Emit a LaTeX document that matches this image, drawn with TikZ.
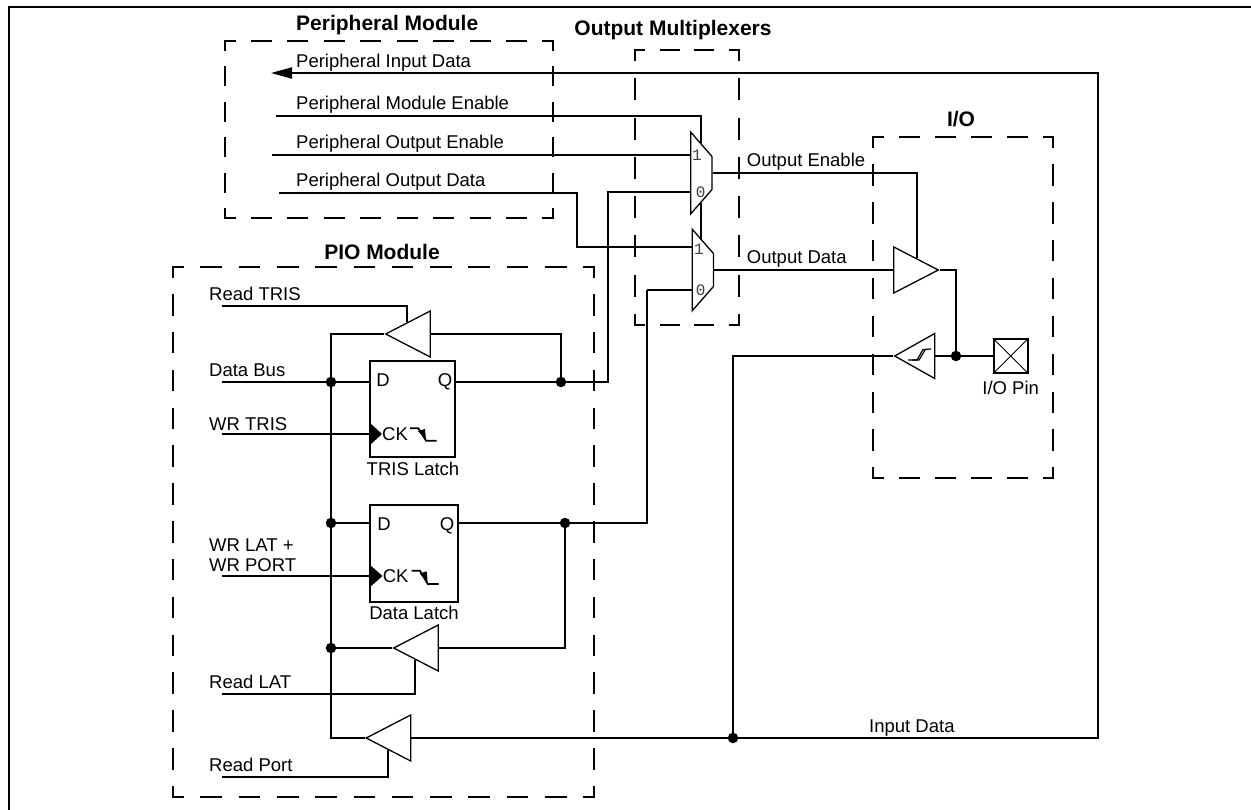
\documentclass[tikz,border=0pt]{standalone}
\usepackage{fontspec}
\setmainfont{Liberation Sans}
\setmonofont{Liberation Mono}
\usetikzlibrary{arrows.meta,shapes.geometric}
\tikzset{
  wire/.style={line width=2pt},
  thinwire/.style={line width=1.2pt},
  dashbox/.style n args={3}{line width=2pt, line cap=rect, dash pattern=on #1pt off #2pt, dash phase=#3pt},
  sig/.style={anchor=base west, inner sep=0pt, font=\fontsize{18.5}{22}\selectfont},
  clabel/.style={anchor=base, inner sep=0pt, font=\fontsize{18.5}{22}\selectfont},
  blocktitle/.style={anchor=base, inner sep=0pt, font=\fontsize{21}{24}\selectfont\bfseries},
  digit/.style={inner sep=0pt, text=black!75, font=\fontsize{16}{19}\selectfont\ttfamily},
  bufl/.style={draw, line width=1.3pt, isosceles triangle, isosceles triangle stretches,
    shape border rotate=180, minimum width=46pt, minimum height=44.5pt, inner sep=0pt, anchor=apex},
  bufr/.style={bufl, shape border rotate=0},
  mux/.style={draw, line width=1.3pt, trapezium, trapezium stretches, shape border rotate=270,
    trapezium angle=53.5, minimum width=81.7pt, minimum height=21.3pt, inner sep=1pt},
  latch/.style={draw, line width=2pt, minimum width=85pt, minimum height=96pt, inner sep=0pt},
  joint/.style={circle, fill, minimum size=10.5pt, inner sep=0pt},
}
\begin{document}
\begin{tikzpicture}[x=1pt, y=-1pt]
  \useasboundingbox (0,0) rectangle (1251,810);

  % outer frame
  \draw[line width=2pt] (9,810) -- (9,7) -- (1251,7);

  % dashed groups
  \draw[dashbox={19}{17.44}{9.5}] (225,41) -- (553,41) (225,218) -- (553,218);
  \draw[dashbox={18}{17.4}{9}] (225,41) -- (225,218) (553,41) -- (553,218);
  \draw[dashbox={18}{16.57}{9}] (635,50) -- (739,50) (635,325) -- (739,325);
  \draw[dashbox={20}{19.3}{10}] (635,50) -- (635,325) (739,50) -- (739,325);
  \draw[dashbox={19}{17.06}{9.5}] (873,137) -- (1053,137) (873,478) -- (1053,478);
  \draw[dashbox={19.5}{18.4}{9.75}] (873,137) -- (873,478) (1053,137) -- (1053,478);
  \draw[dashbox={19.7}{18.57}{9.85}] (173,267) -- (594,267) (173,797) -- (594,797);
  \draw[dashbox={19.5}{18.34}{9.75}] (173,267) -- (173,797) (594,267) -- (594,797);

  \node[blocktitle, anchor=base west] (periphtitle) at (296,31) {Peripheral Module};
  \node[blocktitle] (muxtitle) at (673,36) {Output Multiplexers};
  \node[blocktitle] (iotitle) at (961,127) {I/O};
  \node[blocktitle] (piotitle) at (382,260) {PIO Module};

  % latches
  \node[latch] (trislatch) at (412.5,409) {};
  \node[latch, minimum width=88pt, minimum height=96.7pt] (datalatch) at (414,553.5) {};
  \node[clabel] (trisd) at (383,386.7) {D};
  \node[clabel] (trisq) at (445,386.7) {Q};
  \node[clabel] (trisck) at (395,440.7) {CK};
  \node[clabel] (datad) at (384,530) {D};
  \node[clabel] (dataq) at (447,530) {Q};
  \node[clabel] (datack) at (395.7,582.7) {CK};
  \node[clabel] (trisname) at (413,475) {TRIS Latch};
  \node[clabel] (dataname) at (414,619) {Data Latch};

  % clock marks
  \fill (370,423) -- (382,434) -- (370,445) -- cycle;
  \fill (370,565) -- (382.5,576) -- (370,587) -- cycle;
  \draw[line width=1.7pt] (410,428.3) -- (418.3,428.3) -- (426,440.7) -- (436.7,440.7);
  \fill (418,431) -- (425,429) -- (426,440) -- cycle;
  \draw[line width=1.7pt] (411.7,570.7) -- (420,570.7) -- (427.7,584) -- (438.7,584);
  \fill (419.7,573.4) -- (426.7,571.4) -- (427.7,583) -- cycle;

  % buffers
  \node[bufl] (buftris) at (384,334) {};
  \node[bufl] (buflat) at (392,648) {};
  \node[bufl] (bufport) at (364.5,738) {};
  \node[bufl, minimum width=45pt, minimum height=40pt] (bufschmitt) at (893,356) {};
  \node[bufr] (bufout) at (940,270) {};
  \draw[line width=1.2pt] (908,360) -- (917,360) -- (923,349.5) -- (931,349);
  \draw[line width=1.2pt] (912,360) -- (919,360) -- (925,350);

  % output multiplexers
  \node[mux] (muxen) at (701.4,173) {};
  \node[mux] (muxdat) at (702.8,270) {};
  \node[digit] (muxen1) at (697,155.7) {1};
  \node[digit] (muxen0) at (700.7,192) {0};
  \node[digit] (muxdat1) at (699,249) {1};
  \node[digit] (muxdat0) at (700.7,290) {0};

  % pin
  \node[draw, line width=2pt, minimum size=34pt, inner sep=0pt] (pin) at (1010.7,356) {};
  \draw[line width=0.9pt] (pin.north west) -- (pin.south east);
  \draw[line width=0.9pt] (pin.south west) -- (pin.north east);
  \node[clabel] (pinname) at (1010.7,394.3) {I/O Pin};

  % junctions
  \node[joint] (dotbus) at (331,382) {};
  \node[joint] (dotlat) at (331,523) {};
  \node[joint] (dotrd) at (331,648) {};
  \node[joint] (dottris) at (561,382) {};
  \node[joint] (dotdata) at (565,523) {};
  \node[joint] (dotin) at (733,738) {};
  \node[joint] (dotpin) at (956,356) {};

  % free ends and bends
  \coordinate (rdtris) at (222,306);
  \coordinate (databus) at (222,382);
  \coordinate (wrtris) at (222,434);
  \coordinate (wrlat) at (222,576);
  \coordinate (rdlat) at (222,694);
  \coordinate (rdport) at (222,777);
  \coordinate (pinput) at (271,73);
  \coordinate (pmodule) at (276,116);
  \coordinate (poutput) at (272,155);
  \coordinate (poutmid) at (602,155);
  \coordinate (pdata) at (279,193);
  \coordinate (pdatabend) at (577,247);
  \coordinate (busend) at (331,738);
  \coordinate (inbend) at (1098,738);
  \coordinate (trisbend) at (608,192);
  \coordinate (databend) at (647,290);
  \coordinate (schmittbend) at (733,356);

  % wires in the PIO module
  \draw[wire] (buftris.apex) -| (busend) -- (bufport.apex);
  \draw[wire] (rdtris) -| (buftris.right side);
  \draw[wire] (buftris.lower side) -| (dottris);
  \draw[wire] (databus) -- (dotbus) -- (dotbus -| trislatch.west);
  \draw[wire] (dotbus -| trislatch.east) -- (dottris) -| (trisbend) -- (trisbend -| muxen.west);
  \draw[wire] (wrtris) -- (wrtris -| trislatch.west);
  \draw[wire] (dotlat) -- (dotlat -| datalatch.west);
  \draw[wire] (dotlat -| datalatch.east) -- (dotdata);
  \draw[wire] (dotdata) -| (databend);
  \draw[thinwire] (databend) -- (databend -| muxdat.west);
  \draw[wire] (wrlat) -- (wrlat -| datalatch.west);
  \draw[wire] (dotdata) |- (buflat.lower side);
  \draw[wire] (dotrd) -- (buflat.apex);
  \draw[wire] (rdlat) -| (buflat.left side);
  \draw[wire] (rdport) -| (bufport.left side);

  % wires to the multiplexers
  \draw[wire, -{Triangle[length=21pt,width=11pt]}] (bufport.lower side) -- (inbend) |- (pinput);
  \draw[wire] (pmodule) -| (muxen.north);
  \draw[thinwire] (poutput) -- (poutmid);
  \draw[wire] (poutmid) -- (poutmid -| muxen.west);
  \draw[wire] (pdata) -| (pdatabend) -- (pdatabend -| muxdat.west);
  \draw[wire] (muxen.south) -- (muxen.south |- muxdat.north);

  % wires in the I/O block
  \draw[wire] (muxen.east) -| (bufout.left side);
  \draw[wire] (muxdat.east) -- (bufout.lower side);
  \draw[wire] (bufout.apex) -| (dotpin);
  \draw[wire] (bufschmitt.lower side) -- (dotpin) -- (pin.west);
  \draw[wire] (dotin) -- (schmittbend) -- (bufschmitt.apex);

  % labels
  \node[sig] (lblinput) at (296,67.3) {Peripheral Input Data};
  \node[sig] (lblmodule) at (296,110) {Peripheral Module Enable};
  \node[sig] (lbloutput) at (296,148.3) {Peripheral Output Enable};
  \node[sig] (lbldata) at (296,186.7) {Peripheral Output Data};
  \node[sig] (lbloe) at (746.7,166.7) {Output Enable};
  \node[sig] (lblod) at (746.7,264) {Output Data};
  \node[sig] (lblrdtris) at (209,300.7) {Read TRIS};
  \node[sig] (lblbus) at (209,376.7) {Data Bus};
  \node[sig] (lblwrtris) at (209,430) {WR TRIS};
  \node[sig] (lblwrlat) at (209,551.7) {WR LAT +};
  \node[sig] (lblwrport) at (209,571.7) {WR PORT};
  \node[sig] (lblrdlat) at (209,688.7) {Read LAT};
  \node[sig] (lblrdport) at (209,771.7) {Read Port};
  \node[sig] (lblin) at (869,732) {Input Data};
\end{tikzpicture}
\end{document}
